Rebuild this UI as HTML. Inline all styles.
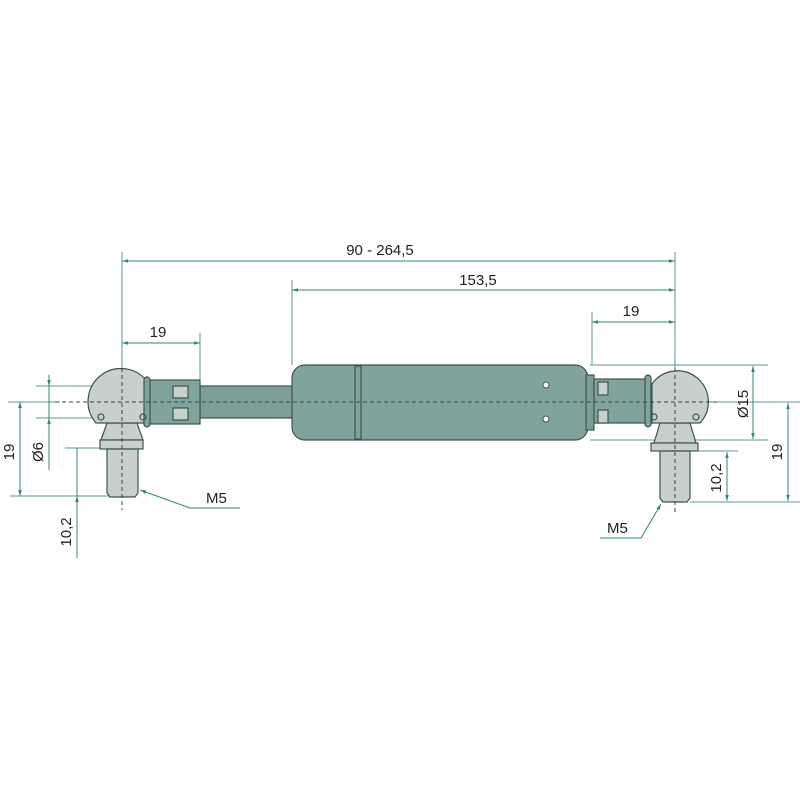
<!DOCTYPE html>
<html><head><style>html,body{margin:0;padding:0;background:#fff}svg{display:block}</style></head><body>
<svg width="800" height="800" viewBox="0 0 800 800" xmlns="http://www.w3.org/2000/svg" font-family="Liberation Sans, sans-serif" font-size="15" fill="#222">
<defs>
<marker id="a" viewBox="0 0 10 10" refX="10" refY="5" markerWidth="8" markerHeight="6" orient="auto-start-reverse"><path d="M0,2 L10,5 L0,8 z" fill="#2e8a6e"/></marker>
</defs>
<g stroke="#5f9a88" stroke-width="1" fill="none">
<line x1="122" y1="252" x2="122" y2="372"/>
<line x1="675" y1="252" x2="675" y2="372"/>
<line x1="292" y1="280" x2="292" y2="365"/>
<line x1="200" y1="333" x2="200" y2="380"/>
<line x1="592" y1="312" x2="592" y2="365"/>
<line x1="36" y1="386" x2="146" y2="386"/>
<line x1="36" y1="418" x2="100" y2="418"/>
<line x1="8" y1="402" x2="60" y2="402"/>
<line x1="10" y1="496" x2="110" y2="496"/>
<line x1="65" y1="448" x2="103" y2="448"/>
<line x1="590" y1="365" x2="768" y2="365"/>
<line x1="590" y1="440" x2="768" y2="440"/>
<line x1="700" y1="402" x2="800" y2="402"/>
<line x1="690" y1="502" x2="800" y2="502"/>
<line x1="690" y1="451" x2="738" y2="451"/>
<line x1="122" y1="261" x2="675" y2="261" marker-start="url(#a)" marker-end="url(#a)" stroke="#2e8a6e"/>
<line x1="292" y1="290" x2="675" y2="290" marker-start="url(#a)" marker-end="url(#a)" stroke="#2e8a6e"/>
<line x1="122" y1="343" x2="200" y2="343" marker-start="url(#a)" marker-end="url(#a)" stroke="#2e8a6e"/>
<line x1="592" y1="322" x2="675" y2="322" marker-start="url(#a)" marker-end="url(#a)" stroke="#2e8a6e"/>
<line x1="49" y1="386" x2="49" y2="470" stroke="#2e8a6e"/>
<line x1="49" y1="430" x2="49" y2="418" marker-end="url(#a)" stroke="#2e8a6e"/>
<line x1="49" y1="375" x2="49" y2="386" marker-end="url(#a)" stroke="#2e8a6e"/>
<line x1="20" y1="402" x2="20" y2="496" marker-start="url(#a)" marker-end="url(#a)" stroke="#2e8a6e"/>
<line x1="77" y1="448" x2="77" y2="558" stroke="#2e8a6e"/>
<line x1="77" y1="510" x2="77" y2="496" marker-end="url(#a)" stroke="#2e8a6e"/>
<line x1="753" y1="366" x2="753" y2="439" marker-start="url(#a)" marker-end="url(#a)" stroke="#2e8a6e"/>
<line x1="788" y1="403" x2="788" y2="501" marker-start="url(#a)" marker-end="url(#a)" stroke="#2e8a6e"/>
<line x1="727" y1="452" x2="727" y2="501" marker-start="url(#a)" marker-end="url(#a)" stroke="#2e8a6e"/>
<polyline points="140,490 190,508 240,508" stroke="#2e8a6e" marker-start="url(#a)"/>
<polyline points="661,504 641,538 600,538" stroke="#2e8a6e" marker-start="url(#a)"/>
</g>
<g stroke="#3a5550" stroke-width="1.2">
<rect x="200" y="386" width="94" height="32" fill="#7d9d98"/>
<rect x="292" y="365" width="296" height="75" rx="13" fill="#80a49d"/>
<rect x="355" y="366" width="6" height="73" fill="#80a49d"/>
<rect x="586" y="375" width="8" height="55" fill="#7d9d98"/>
<path d="M107,423 L137,423 L143,440 L101,440 Z" fill="#c8d0cc"/>
<rect x="100" y="440" width="43" height="9" fill="#c8d0cc"/>
<path d="M107,449 L138,449 L138,493 L135,497 L110,497 L107,493 Z" fill="#c8d0cc"/>
<path d="M146,423 L96,423 A31,31 0 1 1 146,380 Z" fill="#c8d0cc"/>
<rect x="148" y="380" width="52" height="44" fill="#80a49d"/>
<rect x="144" y="377" width="6" height="50" rx="3" fill="#80a49d"/>
<rect x="173" y="386" width="15" height="12" fill="#c8d0cc"/>
<rect x="173" y="408" width="15" height="12" fill="#c8d0cc"/>
<circle cx="101" cy="417" r="3" fill="none"/><circle cx="143" cy="417" r="3" fill="none"/>
<path d="M660,423 L690,423 L696,443 L654,443 Z" fill="#c8d0cc"/>
<rect x="651" y="443" width="47" height="8" fill="#c8d0cc"/>
<path d="M660,451 L690,451 L690,498 L687,502 L663,502 L660,498 Z" fill="#c8d0cc"/>
<path d="M652,423 L700,423 A31,31 0 1 0 652,384 Z" fill="#c8d0cc"/>
<rect x="594" y="379" width="52" height="44" fill="#80a49d"/>
<rect x="645" y="375" width="6" height="52" rx="3" fill="#80a49d"/>
<rect x="598" y="382" width="10" height="13" fill="#c8d0cc"/>
<rect x="598" y="410" width="10" height="13" fill="#c8d0cc"/>
<circle cx="654" cy="417" r="3" fill="none"/><circle cx="696" cy="417" r="3" fill="none"/>
</g>
<circle cx="546" cy="385" r="3" fill="#fff" stroke="#3a5550"/>
<circle cx="546" cy="419" r="3" fill="#fff" stroke="#3a5550"/>
<g stroke="#2f4a45" stroke-width="1" stroke-dasharray="4,3">
<line x1="55" y1="402" x2="720" y2="402"/>
<line x1="122" y1="368" x2="122" y2="510"/>
<line x1="675" y1="368" x2="675" y2="512"/>
</g>
<text x="380" y="255" text-anchor="middle">90 - 264,5</text>
<text x="478" y="285" text-anchor="middle">153,5</text>
<text x="158" y="337" text-anchor="middle">19</text>
<text x="631" y="316" text-anchor="middle">19</text>
<text x="206" y="503">M5</text>
<text x="607" y="533">M5</text>
<text transform="translate(14,452) rotate(-90)" text-anchor="middle">19</text>
<text transform="translate(43,452) rotate(-90)" text-anchor="middle">Ø6</text>
<text transform="translate(71,532) rotate(-90)" text-anchor="middle">10,2</text>
<text transform="translate(748,404) rotate(-90)" text-anchor="middle">Ø15</text>
<text transform="translate(782,452) rotate(-90)" text-anchor="middle">19</text>
<text transform="translate(721,478) rotate(-90)" text-anchor="middle">10,2</text>
</svg>
</body></html>
